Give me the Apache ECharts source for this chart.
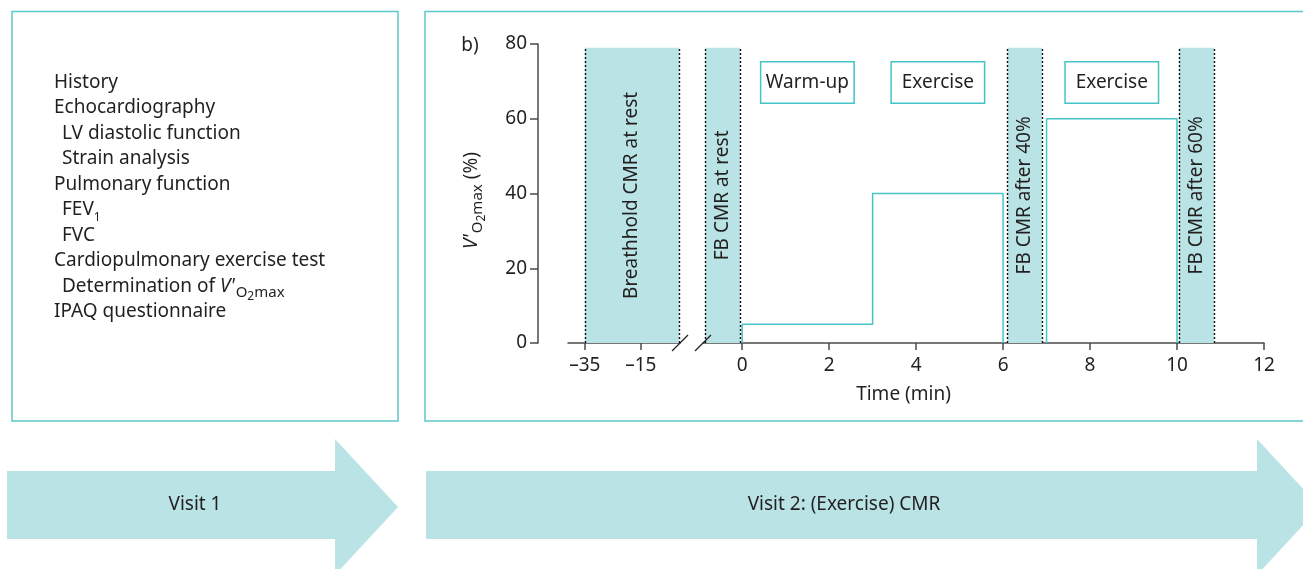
<!DOCTYPE html>
<html>
<head>
<meta charset="utf-8">
<script src="https://cdn.jsdelivr.net/npm/echarts@6/dist/echarts.min.js"></script>
<style>
  html, body { margin: 0; padding: 0; background: #fff; }
  #c { width: 1303px; height: 569px; }
</style>
</head>
<body>
<div id="c"></div>
<script>
// ---- protocol data ----
const restTicks = [-35, -15];                 // tick labels on the rest (pre-exercise) time segment
const timeTicks = [0, 2, 4, 6, 8, 10, 12];    // tick labels on the exercise time segment (min)
const loadTicks = [0, 20, 40, 60, 80];        // V'O2max (%) axis

// CMR acquisition windows (min); axis 0 = rest segment, axis 1 = exercise segment
const scanNames = ['Breathhold CMR at rest', 'FB CMR at rest', 'FB CMR after 40%', 'FB CMR after 60%'];
const scanStart = [-35, -0.85, 6.1, 10.05];
const scanEnd   = [-1.3, -0.05, 6.9, 10.85];
const scanAxis  = [0, 1, 1, 1];
const scanTop   = 79;

// exercise phases on the ergometer
const phaseNames = ['Warm-up', 'Exercise', 'Exercise'];
const phaseStart = [0, 3, 7];
const phaseEnd   = [3, 6, 10];
const phaseLoad  = [5, 40, 60];

// visit 1 assessments (level 0 = heading, 1 = sub-item)
const visit1Items = [
  ['History', 0],
  ['Echocardiography', 0],
  ['LV diastolic function', 1],
  ['Strain analysis', 1],
  ['Pulmonary function', 0],
  ['{m|FEV}{n1|1}', 1],
  ['FVC', 1],
  ['Cardiopulmonary exercise test', 0],
  ['{m|Determination of }{i|V\'}{s|O}{ss|2}{s|max}', 1],
  ['IPAQ questionnaire', 0]
];
const visitNames = ['Visit 1', 'Visit 2: (Exercise) CMR'];

// ---- styling ----
const FONT = '"Noto Sans", "Open Sans", sans-serif';
const INK = '#231f20';
const AXIS = '#4a4a4a';
const TEAL = '#45c3c7';
const FRAME = '#5ec7ca';
const BAND = '#b9e3e4';
const FS = 19;

const G0 = { left: 568, top: 44, width: 112, height: 299 };
const G1 = { left: 703, top: 44, width: 561, height: 299 };

function richSet(key) {
  const mk = (o) => Object.assign(o, { [key]: INK, fontFamily: FONT, verticalAlign: 'top' });
  return {
    m:  mk({ fontSize: FS }),
    i:  mk({ fontSize: FS, fontStyle: 'italic', padding: [0, 1, 0, 0] }),
    s:  mk({ fontSize: 15, padding: [8, 0, 0, 0] }),
    ss: mk({ fontSize: 12, padding: [14, 0, 0, 0] }),
    n1: mk({ fontSize: 12, padding: [11, 0, 0, 0] })
  };
}

const fmtMinus = (v) => String(v).replace('-', '\u2013');

// band fills + dotted edges per time segment
function bandSeries(axisIdx) {
  const areas = [], edges = [];
  scanNames.forEach((name, k) => {
    if (scanAxis[k] !== axisIdx) return;
    areas.push([{ name: name, coord: [scanStart[k], 0] }, { coord: [scanEnd[k], scanTop] }]);
    [scanStart[k], scanEnd[k]].forEach((x) => {
      edges.push([{ coord: [x, 0] }, { coord: [x, scanTop] }]);
    });
  });
  return {
    type: 'line', xAxisIndex: axisIdx, yAxisIndex: axisIdx, data: [], silent: true,
    markArea: {
      silent: true,
      itemStyle: { color: BAND },
      label: {
        show: true, position: 'inside', rotate: 90,
        color: INK, fontFamily: FONT, fontSize: FS
      },
      data: areas
    },
    markLine: {
      silent: true, symbol: 'none', label: { show: false },
      lineStyle: { color: '#111', width: 1.4, type: [2, 2] },
      data: edges
    },
    z: 1
  };
}

// load profile: one stepped segment per run of contiguous phases
function loadSegments() {
  const segs = [];
  let cur = null;
  phaseNames.forEach((_, k) => {
    if (!cur || phaseStart[k] !== phaseEnd[k - 1]) {
      if (cur) { cur.push([phaseEnd[k - 1], 0]); segs.push(cur); }
      cur = [[phaseStart[k], 0]];
    }
    cur.push([phaseStart[k], phaseLoad[k]], [phaseEnd[k], phaseLoad[k]]);
  });
  cur.push([phaseEnd[phaseEnd.length - 1], 0]);
  segs.push(cur);
  return segs.map((pts) => ({
    type: 'line', xAxisIndex: 1, yAxisIndex: 1, data: pts, showSymbol: false,
    lineStyle: { color: TEAL, width: 1.5 }, silent: true, z: 3
  }));
}

const phaseBoxes = {
  type: 'scatter', xAxisIndex: 1, yAxisIndex: 1, symbolSize: 0, silent: true, z: 4,
  itemStyle: { opacity: 1 },
  data: phaseNames.map((n, k) => ({ name: n, value: [(phaseStart[k] + phaseEnd[k]) / 2, 69.7] })),
  label: {
    show: true, position: 'inside', formatter: '{b}', opacity: 1,
    color: INK, fontFamily: FONT, fontSize: FS,
    backgroundColor: '#fff', borderColor: TEAL, borderWidth: 1.5,
    width: 82, height: 22, lineHeight: 22, align: 'center', verticalAlign: 'middle',
    padding: [9, 5, 9, 5]
  }
};

// ---- page furniture ----
const graphics = [
  { type: 'rect', shape: { x: 12, y: 11.5, width: 386, height: 409.5 },
    style: { fill: 'none', stroke: FRAME, lineWidth: 1.5 }, silent: true },
  { type: 'rect', shape: { x: 425, y: 11.5, width: 920, height: 409.5 },
    style: { fill: 'none', stroke: FRAME, lineWidth: 1.5 }, silent: true },
  { type: 'polygon', shape: { points: [[7, 471], [335, 471], [335, 439], [398, 507], [335, 575], [335, 539], [7, 539]] },
    style: { fill: BAND }, silent: true },
  { type: 'polygon', shape: { points: [[426, 471], [1257, 471], [1257, 439], [1320, 507], [1257, 575], [1257, 539], [426, 539]] },
    style: { fill: BAND }, silent: true },
  { type: 'text', x: 195, y: 505, silent: true,
    style: { text: visitNames[0], fill: INK, font: FS + 'px ' + FONT, align: 'center', verticalAlign: 'middle' } },
  { type: 'text', x: 844, y: 505, silent: true,
    style: { text: visitNames[1], fill: INK, font: FS + 'px ' + FONT, align: 'center', verticalAlign: 'middle' } },
  { type: 'text', x: 470, y: 46, silent: true,
    style: { text: 'b)', fill: INK, font: FS + 'px ' + FONT, align: 'center', verticalAlign: 'middle' } }
];

visit1Items.forEach(([txt, level], i) => {
  graphics.push({
    type: 'text', x: level ? 62 : 54, y: 73 + 25.5 * i, silent: true,
    style: {
      text: txt.indexOf('{') === 0 ? txt : '{m|' + txt + '}',
      rich: richSet('fill'), align: 'left', verticalAlign: 'top'
    }
  });
});

// axis-break marks at the gap between the two time segments
[G0.left + G0.width, G1.left].forEach((cx) => {
  graphics.push({
    type: 'line', silent: true, z: 10,
    shape: { x1: cx - 8, y1: G0.top + G0.height + 8, x2: cx + 8, y2: G0.top + G0.height - 8 },
    style: { stroke: '#222', lineWidth: 1.2 }
  });
});

const axisLineStyle = { color: AXIS, width: 1.5 };
const tickLabel = { color: INK, fontFamily: FONT, fontSize: FS };

const option = {
  animation: false,
  backgroundColor: '#fff',
  grid: [
    Object.assign({ outerBoundsMode: 'none', containLabel: false }, G0),
    Object.assign({ outerBoundsMode: 'none', containLabel: false }, G1)
  ],
  xAxis: [
    {
      type: 'value', gridIndex: 0, min: -41, max: -1,
      axisLine: { show: true, onZero: false, lineStyle: axisLineStyle },
      axisTick: { show: true, length: 7, lineStyle: axisLineStyle, customValues: restTicks },
      axisLabel: Object.assign({ margin: 13, customValues: restTicks, formatter: fmtMinus }, tickLabel),
      splitLine: { show: false }
    },
    {
      type: 'value', gridIndex: 1, min: -0.9, max: 12,
      axisLine: { show: true, onZero: false, lineStyle: axisLineStyle },
      axisTick: { show: true, length: 7, lineStyle: axisLineStyle, customValues: timeTicks },
      axisLabel: Object.assign({ margin: 13, customValues: timeTicks, formatter: fmtMinus }, tickLabel),
      splitLine: { show: false },
      name: 'Time (min)', nameLocation: 'middle', nameGap: 42,
      nameTextStyle: { color: INK, fontFamily: FONT, fontSize: FS, padding: [0, 160, 0, 0] }
    }
  ],
  yAxis: [
    {
      type: 'value', gridIndex: 0, min: loadTicks[0], max: loadTicks[loadTicks.length - 1],
      interval: loadTicks[1] - loadTicks[0], offset: 30,
      axisLine: { show: true, onZero: false, lineStyle: axisLineStyle },
      axisTick: { show: true, length: 8, lineStyle: axisLineStyle },
      axisLabel: Object.assign({ margin: 11, padding: [5, 0, 0, 0] }, tickLabel),
      splitLine: { show: false },
      name: '{i|V\'}{s|O}{ss|2}{s|max}{m| (%)}',
      nameLocation: 'middle', nameRotate: 90, nameGap: 50,
      nameTextStyle: { rich: richSet('color'), padding: [0, 14, 0, 0] }
    },
    {
      type: 'value', gridIndex: 1, min: loadTicks[0], max: loadTicks[loadTicks.length - 1], show: false
    }
  ],
  graphic: graphics,
  series: [bandSeries(0), bandSeries(1)].concat(loadSegments(), [phaseBoxes])
};

const chart = echarts.init(document.getElementById('c'), null, { renderer: 'canvas' });
chart.setOption(option);
</script>
</body>
</html>
